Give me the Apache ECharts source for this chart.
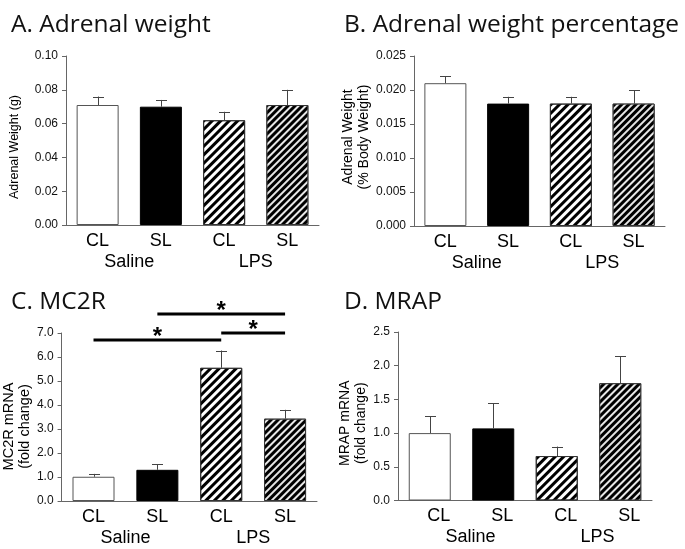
<!DOCTYPE html>
<html>
<head>
<meta charset="utf-8">
<script src="https://cdn.jsdelivr.net/npm/echarts@6/dist/echarts.min.js"></script>
<style>html,body{margin:0;padding:0;background:#fff;}#c{width:685px;height:549px;}</style>
</head>
<body>
<div id="c"></div>
<script>
// ---- data ----
const categories = ['CL', 'SL', 'CL', 'SL'];
const groups = ['Saline', 'LPS'];
const weightMean = [0.071, 0.070, 0.062, 0.071];
const weightErrTop = [0.076, 0.074, 0.067, 0.080];
const pctMean = [0.021, 0.018, 0.018, 0.018];
const pctErrTop = [0.022, 0.019, 0.019, 0.020];
const mc2rMean = [1.01, 1.30, 5.55, 3.43];
const mc2rErrTop = [1.13, 1.53, 6.27, 3.80];
const mrapMean = [1.00, 1.07, 0.66, 1.74];
const mrapErrTop = [1.25, 1.44, 0.80, 2.14];
// significance: [from index, to index, height]
const mc2rSig = [[0, 2, 6.7], [1, 3, 7.8], [2, 3, 7.0]];
const titles = ['A. Adrenal weight', 'B. Adrenal weight percentage', 'C. MC2R', 'D. MRAP'];
const yNames = ['Adrenal Weight (g)', 'Adrenal Weight\n(% Body Weight)', 'MC2R mRNA\n(fold change)', 'MRAP mRNA\n(fold change)'];
const yMax = [0.10, 0.025, 7.0, 2.5];
const yStep = [0.02, 0.005, 1.0, 0.5];
const yDecimals = [2, 3, 1, 1];

// ---- styles ----
const barStyles = [
  { color: '#ffffff', borderColor: '#555', borderWidth: 1 },
  { color: '#000000', borderColor: '#000', borderWidth: 1 },
  { color: '#ffffff', borderColor: '#333', borderWidth: 1,
    decal: { symbol: 'rect', symbolSize: 1, color: '#000', dashArrayX: [1, 0], dashArrayY: [2.2, 2.3], rotation: -Math.PI / 4 } },
  { color: '#000000', borderColor: '#333', borderWidth: 1,
    decal: { symbol: 'rect', symbolSize: 1, color: '#e6e6e6', dashArrayX: [1, 0], dashArrayY: [1.7, 2.8], rotation: -Math.PI / 4 } }
];
const grids = [
  { left: 66, top: 56, width: 253, height: 169 },
  { left: 414, top: 56, width: 251, height: 170 },
  { left: 60, top: 333, width: 257, height: 168 },
  { left: 398, top: 332, width: 254, height: 168.5 }
];
const nameGaps = [44, 39, 20, 22];
const nameSizes = [12.5, 14, 14.5, 14];
const namePads = [[0, 13, 0, 0], [0, 0, 0, 8], [0, 19, 0, 0], [0, 14, 0, 0]];
const titlePos = [[6, 8], [339, 8], [6, 285], [339, 285]];
const labelShift = [0, 0, 0, 18];

const means = [weightMean, pctMean, mc2rMean, mrapMean];
const errs = [weightErrTop, pctErrTop, mc2rErrTop, mrapErrTop];

const FONT = '"Liberation Sans", Arial, sans-serif';

const option = {
  animation: false,
  backgroundColor: '#fff',
  title: titles.map((t, i) => ({
    text: t, left: titlePos[i][0], top: titlePos[i][1],
    textStyle: { fontFamily: '"Open Sans"', fontSize: 24.5, fontWeight: 'normal', color: '#111' }
  })),
  grid: grids,
  xAxis: [],
  yAxis: [],
  series: []
};

for (let i = 0; i < 4; i++) {
  option.xAxis.push({
    type: 'category', gridIndex: i, data: categories,
    axisLine: { onZero: false, lineStyle: { color: '#666', width: 1 } },
    axisTick: { show: false },
    axisLabel: { fontFamily: FONT, fontSize: 18, color: '#000', margin: 7, padding: [0, 0, 0, labelShift[i]] }
  });
  const catAxisIdx = option.xAxis.length - 1;
  option.xAxis.push({
    type: 'category', gridIndex: i, data: groups, position: 'bottom', offset: 21,
    axisLine: { show: false }, axisTick: { show: false },
    axisLabel: { fontFamily: FONT, fontSize: 18, color: '#000', margin: 7, padding: [0, 0, 0, labelShift[i]] }
  });
  option.yAxis.push({
    type: 'value', gridIndex: i, min: 0, max: yMax[i], interval: yStep[i],
    name: yNames[i], nameLocation: 'middle', nameGap: nameGaps[i],
    nameTextStyle: { fontFamily: FONT, fontSize: nameSizes[i], color: '#000',
      lineHeight: Math.round(nameSizes[i] * 1.12), padding: namePads[i] },
    splitLine: { show: false },
    axisLine: { show: true, onZero: false, lineStyle: { color: '#666', width: 1 } },
    axisTick: { show: true, length: 4, lineStyle: { color: '#666' } },
    axisLabel: { fontFamily: FONT, fontSize: 12, color: '#111', margin: 8,
      formatter: (v) => v.toFixed(yDecimals[i]) }
  });
  const yIdx = option.yAxis.length - 1;
  option.series.push({
    type: 'bar', xAxisIndex: catAxisIdx, yAxisIndex: yIdx, barWidth: 42,
    data: means[i].map((v, k) => ({ value: v, itemStyle: barStyles[k] })),
    z: 2
  });
  const m = means[i], e = errs[i];
  option.series.push({
    type: 'custom', xAxisIndex: catAxisIdx, yAxisIndex: yIdx, z: 3,
    data: m.map((v, k) => [k, v, e[k]]),
    renderItem: (params, api) => {
      const p0 = api.coord([api.value(0), api.value(1)]);
      const p1 = api.coord([api.value(0), api.value(2)]);
      const style = { stroke: '#444', lineWidth: 1 };
      const x = Math.round(p0[0]) + 0.5;
      return { type: 'group', children: [
        { type: 'line', shape: { x1: x, y1: p0[1], x2: x, y2: p1[1] }, style },
        { type: 'line', shape: { x1: x - 5.5, y1: Math.round(p1[1]) + 0.5, x2: x + 5.5, y2: Math.round(p1[1]) + 0.5 }, style }
      ] };
    }
  });
  if (i === 2) {
    option.xAxis.push({ type: 'value', gridIndex: i, min: -0.5, max: 3.5, show: false });
    const vIdx = option.xAxis.length - 1;
    option.series.push({
      type: 'custom', xAxisIndex: vIdx, yAxisIndex: yIdx, z: 4, clip: false,
      data: mc2rSig,
      renderItem: (params, api) => {
        const a = api.coord([api.value(0), api.value(2)]);
        const b = api.coord([api.value(1), api.value(2)]);
        const y = Math.round(a[1]);
        return { type: 'group', children: [
          { type: 'rect', shape: { x: a[0], y: y - 1.5, width: b[0] - a[0], height: 3 }, style: { fill: '#000' } },
          { type: 'text', x: (a[0] + b[0]) / 2, y: y + 9, style: { text: '*', fontFamily: FONT, fontSize: 24, fontWeight: 'bold', fill: '#000', align: 'center', verticalAlign: 'bottom' } }
        ] };
      }
    });
  }
}

const chart = echarts.init(document.getElementById('c'), null, { renderer: 'canvas' });
chart.setOption(option);
</script>
</body>
</html>
